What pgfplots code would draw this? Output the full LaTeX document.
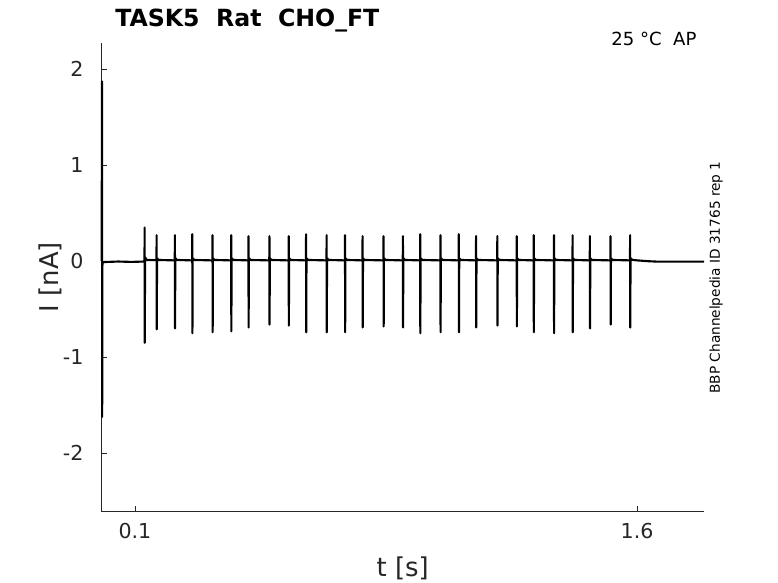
\documentclass[border=0pt]{standalone}
\usepackage{pgfplots}
\pgfplotsset{compat=1.18}
\usepackage{fontspec}
\setmainfont{DejaVu Sans}
\definecolor{axgray}{RGB}{38,38,38}
\begin{document}
\begin{tikzpicture}
\useasboundingbox (-76.125bp,-54bp) rectangle (507.375bp,383.25bp);
\begin{axis}[
  at={(0,0)}, anchor=south west,
  scale only axis, width=451.875bp, height=351bp,
  xmin=0, xmax=1.8, ymin=-2.6, ymax=2.27,
  axis lines*=left,
  axis line style={axgray, line width=0.6bp},
  every tick/.style={axgray, line width=0.6bp},
  tick align=inside, major tick length=4bp,
  xtick={0.1,1.6}, xticklabels={0.1,1.6},
  ytick={-2,-1,0,1,2}, yticklabels={-2,-1,0,1,2},
  /pgf/number format/assume math mode=true,
  ticklabel style={font=\fontsize{15.5}{17}\selectfont, text=axgray, inner sep=0pt},
  xticklabel style={anchor=north, yshift=-9bp},
  yticklabel style={anchor=east, xshift=-13.4bp},
  xlabel={t [s]}, ylabel={I [nA]},
  label style={font=\fontsize{19.5}{22}\selectfont, text=axgray, inner sep=0pt},
  xlabel style={at={(axis description cs:0.5,-0.1235)}, anchor=center},
  ylabel style={at={(axis description cs:-0.0855,0.5)}, anchor=center, rotate=0},
  clip=false,
]
\addplot[black, line width=1.6bp, line join=round, mark=none] coordinates {
(0.0005,0) (0.0015,1.87) (0.0020,-1.62) (0.0025,-0.05) (0.004,-0.01) (0.05,-0.004) (0.09,-0.008) (0.127,-0.004)
(0.1285,0.0) (0.1289,0.35) (0.1293,-0.85) (0.1301,0.04) (0.1349,0.012)
(0.1643,0.01) (0.1647,0.27) (0.1651,-0.71) (0.1659,0.03) (0.1707,0.012)
(0.2189,0.008) (0.2193,0.27) (0.2197,-0.70) (0.2205,0.03) (0.2253,0.012)
(0.2708,0.008) (0.2712,0.28) (0.2716,-0.75) (0.2724,0.03) (0.2772,0.012)
(0.3313,0.008) (0.3317,0.27) (0.3321,-0.74) (0.3329,0.03) (0.3377,0.012)
(0.3871,0.008) (0.3875,0.27) (0.3879,-0.73) (0.3887,0.03) (0.3935,0.012)
(0.4387,0.008) (0.4391,0.26) (0.4395,-0.69) (0.4403,0.03) (0.4451,0.012)
(0.5013,0.008) (0.5017,0.26) (0.5021,-0.66) (0.5029,0.03) (0.5077,0.012)
(0.5589,0.008) (0.5593,0.26) (0.5597,-0.67) (0.5605,0.03) (0.5653,0.012)
(0.6108,0.008) (0.6112,0.28) (0.6116,-0.74) (0.6124,0.03) (0.6172,0.012)
(0.6722,0.008) (0.6726,0.27) (0.6730,-0.74) (0.6738,0.03) (0.6786,0.012)
(0.7271,0.008) (0.7275,0.27) (0.7279,-0.74) (0.7287,0.03) (0.7335,0.012)
(0.7796,0.008) (0.7800,0.26) (0.7804,-0.69) (0.7812,0.03) (0.7860,0.012)
(0.8422,0.008) (0.8426,0.26) (0.8430,-0.68) (0.8438,0.03) (0.8486,0.012)
(0.9001,0.008) (0.9005,0.26) (0.9009,-0.69) (0.9017,0.03) (0.9065,0.012)
(0.9517,0.008) (0.9521,0.28) (0.9525,-0.75) (0.9533,0.03) (0.9581,0.012)
(1.0122,0.008) (1.0126,0.27) (1.0130,-0.74) (1.0138,0.03) (1.0186,0.012)
(1.0671,0.008) (1.0675,0.28) (1.0679,-0.74) (1.0687,0.03) (1.0735,0.012)
(1.1187,0.008) (1.1191,0.26) (1.1195,-0.69) (1.1203,0.03) (1.1251,0.012)
(1.1822,0.008) (1.1826,0.26) (1.1830,-0.67) (1.1838,0.03) (1.1886,0.012)
(1.2401,0.008) (1.2405,0.26) (1.2409,-0.68) (1.2417,0.03) (1.2465,0.012)
(1.2908,0.008) (1.2912,0.27) (1.2916,-0.74) (1.2924,0.03) (1.2972,0.012)
(1.3513,0.008) (1.3517,0.27) (1.3521,-0.75) (1.3529,0.03) (1.3577,0.012)
(1.4071,0.008) (1.4075,0.27) (1.4079,-0.74) (1.4087,0.03) (1.4135,0.012)
(1.4587,0.008) (1.4591,0.26) (1.4595,-0.70) (1.4603,0.03) (1.4651,0.012)
(1.5204,0.008) (1.5208,0.26) (1.5212,-0.66) (1.5220,0.03) (1.5268,0.012)
(1.5789,0.008) (1.5793,0.27) (1.5797,-0.69) (1.5805,0.03) (1.5853,0.014)
(1.60,0.008) (1.63,0.0) (1.66,-0.005) (1.72,-0.005) (1.8,-0.005)
};
\node[anchor=base west, inner sep=0pt, font=\fontsize{17.8}{20}\selectfont\bfseries, text=black]
  at (rel axis cs:0.0224,1.0348) {TASK5~~Rat~~CHO\_FT};
\node[anchor=base east, inner sep=0pt, font=\fontsize{13.6}{15}\selectfont, text=black]
  at (rel axis cs:0.9879,0.9942) {25~°C~~AP};
\node[anchor=center, inner sep=0pt, rotate=90, font=\fontsize{10.3}{12}\selectfont, text=black]
  at (rel axis cs:1.0199,0.499) {BBP Channelpedia ID 31765 rep 1};
\end{axis}
\end{tikzpicture}
\end{document}
